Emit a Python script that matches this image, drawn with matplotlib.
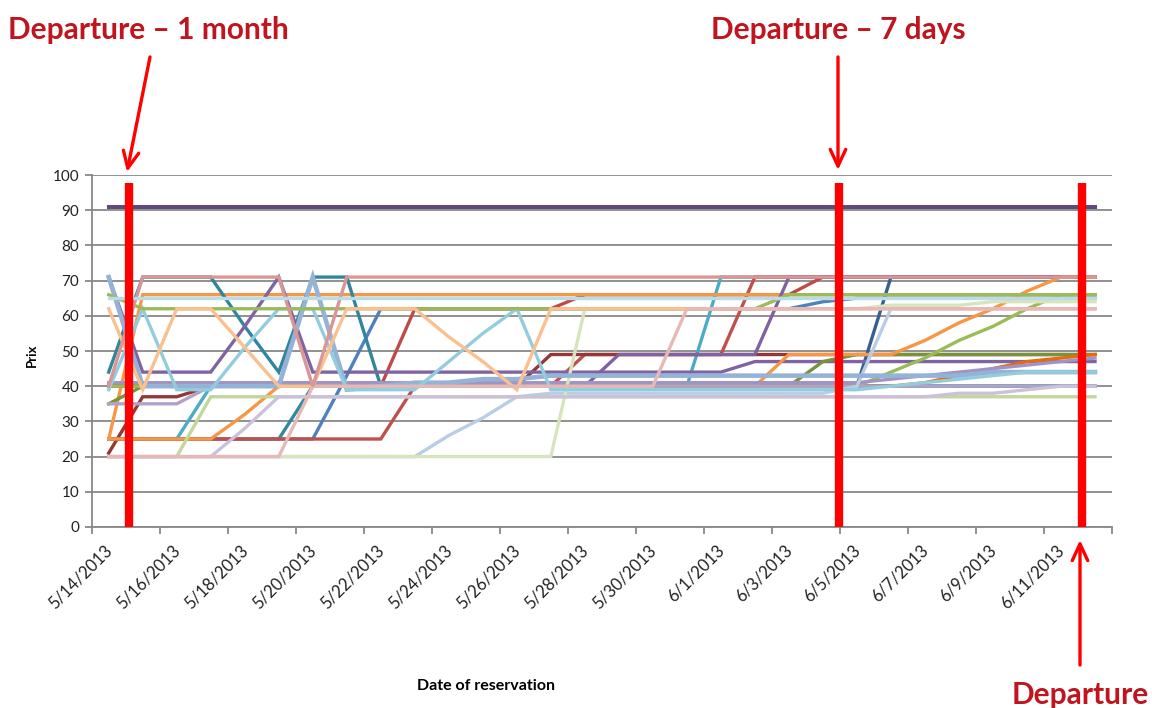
import numpy as np
import matplotlib
matplotlib.use('Agg')
import matplotlib.pyplot as plt
import matplotlib.dates as mdates
from matplotlib.transforms import ScaledTranslation

# ---- data (one value per day, 5/14/2013 .. 6/12/2013) ----
days = np.arange('2013-05-14', '2013-06-13', dtype='datetime64[D]')

s01 = [91, 91, 91, 91, 91, 91, 91, 91, 91, 91, 91, 91, 91, 91, 91, 91, 91, 91, 91, 91, 91, 91, 91, 91, 91, 91, 91, 91, 91, 91]
s02 = [40, 71, 71, 71, 71, 71, 40, 71, 71, 71, 71, 71, 71, 71, 71, 71, 71, 71, 71, 71, 71, 71, 71, 71, 71, 71, 71, 71, 71, 71]
s03 = [44, 71, 71, 71, 57, 44, 71, 71, 40, 40, 40, 40, 40, 40, 40, 40, 40, 40, 40, 40, 40, 40, 40, 40, 40, 40, 40, 40, 40, 40]
s04 = [25, 66, 66, 66, 66, 66, 66, 66, 66, 66, 66, 66, 66, 66, 66, 66, 66, 66, 66, 66, 66, 66, 66, 66, 66, 66, 66, 66, 66, 66]
s05 = [65, 65, 65, 65, 65, 65, 65, 65, 65, 65, 65, 65, 65, 65, 65, 65, 65, 65, 65, 65, 65, 65, 65, 65, 65, 65, 65, 65, 65, 65]
s06 = [66, 62, 62, 62, 62, 62, 62, 62, 62, 62, 62, 62, 62, 62, 62, 62, 62, 62, 62, 62, 66, 66, 66, 66, 66, 66, 66, 66, 66, 66]
s07 = [62, 39, 62, 62, 51, 40, 40, 62, 62, 62, 54, 47, 39, 62, 62, 62, 62, 62, 62, 62, 62, 62, 62, 62, 62, 62, 62, 62, 62, 62]
s08 = [39, 62, 39, 39, 51, 62, 62, 39, 39, 39, 47, 55, 62, 39, 39, 39, 39, 39, 39, 39, 39, 39, 39, 40, 41, 42, 43, 44, 44, 44]
s09 = [71, 44, 44, 44, 57, 71, 44, 44, 44, 44, 44, 44, 44, 44, 44, 44, 44, 44, 44, 47, 47, 47, 47, 47, 47, 47, 47, 47, 47, 47]
s10 = [71, 40, 40, 40, 40, 40, 71, 39, 40, 41, 41, 42, 42, 43, 43, 43, 43, 43, 43, 43, 43, 43, 43, 43, 43, 43, 44, 44, 44, 44]
s11 = [35, 35, 35, 40, 40, 40, 40, 40, 40, 40, 40, 40, 40, 40, 40, 40, 40, 40, 40, 40, 40, 40, 40, 40, 40, 40, 40, 40, 40, 40]
s12 = [21, 37, 37, 40, 40, 40, 40, 40, 40, 40, 40, 40, 40, 49, 49, 49, 49, 49, 49, 49, 49, 49, 49, 49, 49, 49, 49, 49, 49, 49]
s13 = [25, 25, 25, 25, 25, 25, 25, 25, 25, 40, 40, 40, 40, 40, 49, 49, 49, 49, 49, 71, 71, 71, 71, 71, 71, 71, 71, 71, 71, 71]
s14 = [40, 40, 40, 40, 40, 40, 40, 40, 40, 62, 62, 62, 62, 62, 66, 66, 66, 66, 66, 66, 66, 71, 71, 71, 71, 71, 71, 71, 71, 71]
s15 = [25, 25, 25, 25, 32, 40, 40, 40, 40, 40, 40, 40, 40, 40, 40, 40, 40, 40, 40, 40, 49, 49, 49, 49, 53, 58, 62, 67, 71, 71]
s16 = [25, 25, 25, 40, 40, 40, 40, 40, 40, 40, 40, 40, 40, 40, 40, 40, 40, 40, 71, 71, 71, 71, 71, 71, 71, 71, 71, 71, 71, 71]
s17 = [20, 20, 20, 37, 37, 37, 37, 37, 37, 37, 37, 37, 37, 37, 37, 37, 37, 37, 37, 37, 37, 37, 37, 37, 37, 37, 37, 37, 37, 37]
s18 = [20, 20, 20, 20, 28, 37, 37, 37, 37, 37, 37, 37, 37, 37, 37, 37, 37, 37, 37, 37, 37, 37, 37, 37, 37, 38, 38, 39, 40, 40]
s19 = [20, 20, 20, 20, 20, 20, 40, 40, 40, 40, 40, 40, 40, 40, 40, 40, 40, 62, 62, 62, 62, 62, 62, 62, 62, 62, 62, 62, 62, 62]
s20 = [25, 25, 25, 25, 25, 25, 40, 40, 40, 40, 40, 40, 40, 40, 40, 40, 40, 40, 40, 40, 40, 40, 40, 40, 40, 40, 40, 40, 40, 40]
s21 = [25, 25, 25, 25, 25, 25, 25, 43, 62, 62, 62, 62, 62, 62, 62, 62, 62, 62, 62, 62, 62, 64, 65, 65, 65, 65, 65, 65, 65, 65]
s22 = [40, 40, 40, 40, 40, 40, 40, 40, 40, 40, 40, 40, 40, 40, 40, 40, 40, 40, 40, 40, 40, 40, 40, 71, 71, 71, 71, 71, 71, 71]
s23 = [20, 20, 20, 20, 20, 20, 20, 20, 20, 20, 26, 31, 37, 38, 38, 38, 38, 38, 38, 38, 38, 38, 40, 62, 62, 62, 62, 62, 62, 62]
s24 = [20, 20, 20, 20, 20, 20, 20, 20, 20, 20, 20, 20, 20, 20, 62, 62, 62, 62, 62, 62, 62, 62, 62, 63, 63, 63, 64, 64, 64, 64]
s25 = [35, 40, 40, 40, 40, 40, 40, 40, 40, 40, 40, 40, 40, 40, 40, 40, 40, 40, 40, 40, 40, 47, 49, 49, 49, 49, 49, 49, 49, 49]
s26 = [40, 40, 40, 40, 40, 40, 40, 40, 40, 40, 40, 40, 40, 40, 40, 40, 40, 40, 40, 40, 40, 40, 40, 44, 48, 53, 57, 62, 66, 66]
s27 = [40, 40, 40, 40, 40, 40, 40, 40, 40, 40, 40, 40, 40, 40, 40, 40, 40, 40, 40, 40, 40, 40, 40, 40, 41, 43, 45, 47, 48, 49]
s28 = [41, 41, 41, 41, 41, 41, 41, 41, 41, 41, 41, 41, 41, 41, 41, 41, 41, 41, 41, 41, 41, 41, 41, 42, 43, 44, 45, 46, 47, 48]
s29 = [40, 40, 40, 40, 40, 40, 40, 40, 40, 40, 40, 40, 40, 40, 40, 49, 49, 49, 49, 49, 71, 71, 71, 71, 71, 71, 71, 71, 71, 71]

# drawing order (bottom first) and colours
series = [
    (s22, '#376092'), (s20, '#2E8B9E'), (s21, '#4F81BD'), (s16, '#4BACC6'),
    (s13, '#C0504D'), (s12, '#953735'), (s14, '#BE4B48'), (s04, '#F79646'),
    (s03, '#31859C'), (s29, '#7E62A1'), (s09, '#8064A2'), (s25, '#77933C'),
    (s15, '#F79646'), (s27, '#E46C0A'), (s26, '#9BBB59'), (s28, '#A094C6'),
    (s11, '#B3A2C7'), (s23, '#B9CDE5'), (s24, '#D7E4BD'), (s17, '#C3D69B'),
    (s18, '#CCC1DA'), (s10, '#95B3D7'), (s08, '#93CDDD'), (s06, '#9BBB59'),
    (s07, '#FAC090'), (s19, '#E6B9B8'), (s02, '#D99694'), (s05, '#B7DEE8'),
    (s01, '#604A7B'),
]

tick_dates = np.arange('2013-05-14', '2013-06-14', 2, dtype='datetime64[D]')
tick_labels = ['5/14/2013', '5/16/2013', '5/18/2013', '5/20/2013', '5/22/2013',
               '5/24/2013', '5/26/2013', '5/28/2013', '5/30/2013', '6/1/2013',
               '6/3/2013', '6/5/2013', '6/7/2013', '6/9/2013', '6/11/2013', '']
y_ticks = [0, 10, 20, 30, 40, 50, 60, 70, 80, 90, 100]

markers = np.array(['2013-05-15T02:00', '2013-06-04T23:00', '2013-06-12T03:00'], dtype='datetime64[m]')
marker_texts = ['Departure \u2013 1 month', 'Departure \u2013 7 days', 'Departure']

# ---- figure ----
W, H = 1152, 708
plt.rcParams['font.family'] = ['Lato', 'DejaVu Sans']
fig = plt.figure(figsize=(W / 100, H / 100), dpi=100)
ax = fig.add_axes([91.7 / W, 1 - 527 / H, (1112 - 91.7) / W, (527 - 175) / H])

x = mdates.date2num(days) + 0.5
for vals, col in series:
    lw = 2.4
    if vals is s10:
        lw = 3.3
    if vals is s01:
        lw = 2.9
    ax.plot(x, vals, color=col, lw=lw, solid_joinstyle='miter')

ax.set_xlim(mdates.date2num(np.datetime64('2013-05-14')), mdates.date2num(np.datetime64('2013-06-13')))
ax.set_ylim(0, 100)
ax.set_yticks(y_ticks)
xt = mdates.date2num(tick_dates)
ax.set_xticks(xt)
ax.set_xticklabels([])

# rotated date labels, end of each label sits right/below its tick
lab_tr = ax.get_xaxis_transform() + ScaledTranslation(0.18, -0.21, fig.dpi_scale_trans)
for xv, lab in zip(xt, tick_labels):
    ax.text(xv, 0, lab, transform=lab_tr, rotation=45, ha='right', va='center',
            rotation_mode='anchor', fontsize=12, color='#222222', clip_on=False)

grid_col = '#888888'
ax.grid(axis='y', color=grid_col, lw=1.3)
ax.set_axisbelow(True)
for sp in ['top', 'right']:
    ax.spines[sp].set_visible(False)
for sp in ['left', 'bottom']:
    ax.spines[sp].set_color(grid_col)
    ax.spines[sp].set_linewidth(1.3)
ax.tick_params(axis='x', direction='out', length=5, width=1.3, color=grid_col)
ax.tick_params(axis='y', direction='out', length=5, width=1.3, color=grid_col, pad=4,
               labelsize=11, labelcolor='#222222')

# red vertical markers
for m in markers:
    mx = mdates.date2num(m)
    ax.plot([mx, mx], [0, 97.7], color='#FF0000', lw=6, solid_capstyle='butt', clip_on=False, zorder=5)

# axis titles
fig.text(32 / W, 1 - 355 / H, 'Prix', rotation=90, ha='center', va='center', fontsize=9.5, fontweight='bold')
fig.text(486 / W, 1 - 686 / H, 'Date of reservation', ha='center', va='center', fontsize=11.5, fontweight='bold')

# annotations
txt_col = '#C0141E'
fig.text(148 / W, 1 - 30 / H, marker_texts[0], ha='center', va='center', fontsize=21.5,
         fontweight='bold', color=txt_col)
fig.text(838 / W, 1 - 30 / H, marker_texts[1], ha='center', va='center', fontsize=21.5,
         fontweight='bold', color=txt_col)
fig.text(1080 / W, 1 - 695 / H, marker_texts[2], ha='center', va='center', fontsize=21.5,
         fontweight='bold', color=txt_col)

arrows = [((150, 57), (127, 172)), ((838, 57), (838, 170)), ((1080, 665), (1080, 540))]
for (x0, y0), (x1, y1) in arrows:
    ax.annotate('', xy=(x1, H - y1), xytext=(x0, H - y0), xycoords='figure pixels',
                textcoords='figure pixels', annotation_clip=False,
                arrowprops=dict(arrowstyle='->,head_length=0.6,head_width=0.28', color='#FF0000',
                                lw=2.4, mutation_scale=20, shrinkA=0, shrinkB=0))

fig.savefig('out.png', dpi=100)
